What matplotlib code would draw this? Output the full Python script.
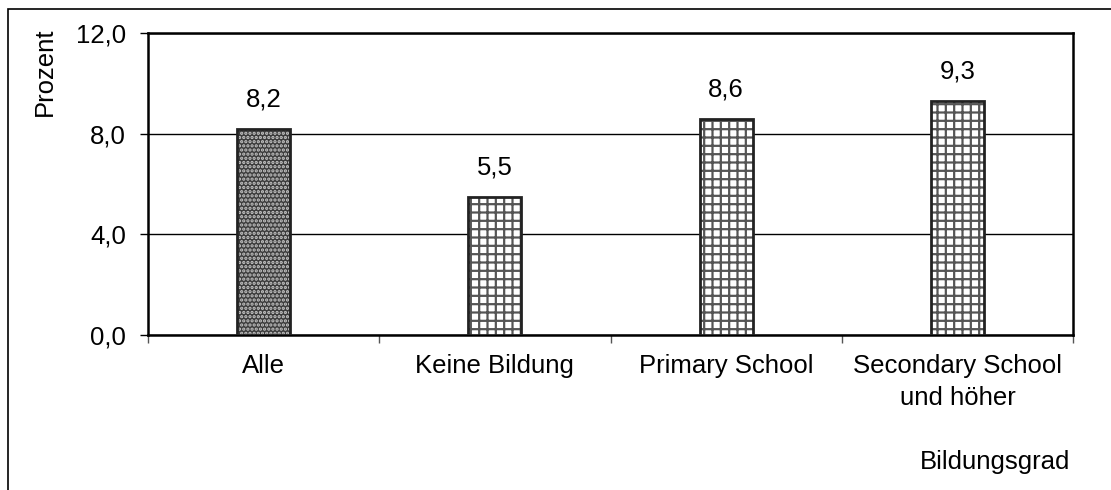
import matplotlib.pyplot as plt
from matplotlib.patches import Rectangle
import numpy as np

plt.rcParams['font.family'] = ['Liberation Sans', 'DejaVu Sans']
plt.rcParams['hatch.linewidth'] = 1.6

categories = ['Alle', 'Keine Bildung', 'Primary School', 'Secondary School\nund höher']
values = [8.2, 5.5, 8.6, 9.3]
value_labels = ['8,2', '5,5', '8,6', '9,3']
y_ticks = [0, 4, 8, 12]
y_tick_labels = ['0,0', '4,0', '8,0', '12,0']

fs = 18.5

fig = plt.figure(figsize=(11.11, 4.9), dpi=100)
ax = fig.add_axes([148 / 1111, 1 - 335 / 490, (1073 - 148) / 1111, (335 - 33) / 490])

# outer chart frame, runs off the right and bottom edge
fig.patches.append(Rectangle((8 / 1111, -0.1), 1.2, 1 - 9 / 490 + 0.1,
                             transform=fig.transFigure, fill=False,
                             edgecolor='black', linewidth=1.2))

x = np.arange(len(categories))
width = 0.23
for i, v in enumerate(values):
    if i == 0:
        ax.bar(x[i], v, width, color='#3c3c3c', edgecolor='#c8c8c8', hatch='....',
               linewidth=0, zorder=3)
    else:
        ax.bar(x[i], v, width, color='white', edgecolor='#555555', hatch='++',
               linewidth=0, zorder=3)
    ax.bar(x[i], v, width, fill=False, edgecolor='#222222', linewidth=2, zorder=4)
    ax.annotate(value_labels[i], (x[i], v), xytext=(0, 21), textcoords='offset points',
                ha='center', va='center', fontsize=fs)

ax.set_xlim(-0.5, len(categories) - 0.5)
ax.set_ylim(0, 12)
ax.set_yticks(y_ticks)
ax.set_yticklabels(y_tick_labels, fontsize=fs)
ax.set_xticks(x)
ax.set_xticklabels(categories, fontsize=fs, linespacing=1.4)
ax.set_xticks(np.arange(-0.5, len(categories)), minor=True)
ax.tick_params(axis='x', which='major', length=0, pad=14)
ax.tick_params(axis='x', which='minor', length=6, width=1, color='#555555')
ax.tick_params(axis='y', length=6, width=1, pad=10)

ax.grid(axis='y', color='black', linewidth=1)
ax.set_axisbelow(True)
for s in ax.spines.values():
    s.set_linewidth(1.8)
    s.set_color('black')

fig.text(45 / 1111, 1 - 72 / 490, 'Prozent', rotation=90, ha='center', va='center', fontsize=fs)
fig.text(1070 / 1111, 1 - 462 / 490, 'Bildungsgrad', ha='right', va='center', fontsize=fs)

fig.savefig('out.png', dpi=100)
